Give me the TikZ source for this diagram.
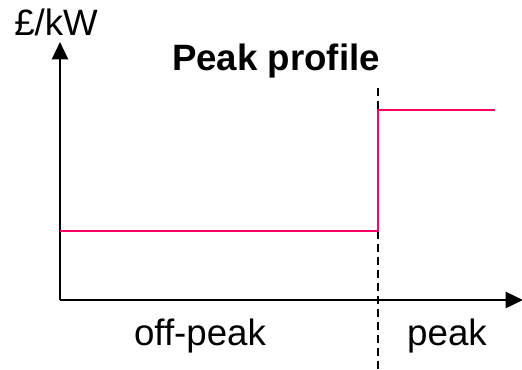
\documentclass[tikz,border=0pt]{standalone}
\usepackage{fontspec}
\setmainfont{Liberation Sans}
\usepackage{tikz}
\usetikzlibrary{arrows.meta, positioning}
\definecolor{peakpink}{RGB}{255,0,102}

\begin{document}
\begin{tikzpicture}[x=0.75pt,y=0.75pt,yscale=-1,xscale=1,
		axisline/.style={line width=1.9pt, -{Triangle[length=13pt,width=12pt]}},
		tariff/.style={draw=peakpink, line width=1.7pt},
		divider/.style={line width=1pt, dash pattern=on 6pt off 3.75pt},
		txt/.style={inner sep=0.75pt, font=\fontsize{27.5}{33}\selectfont}]
		\useasboundingbox (0,0) rectangle (522,369);

		%Coordinates
		\coordinate (origin) at (60,300) ;
		\coordinate (ytop) at (60,42) ;
		\coordinate (xend) at (523,300) ;
		\coordinate (divtop) at (378,88) ;
		\coordinate (divbot) at (378,369) ;
		\coordinate (lowstart) at (60,231) ;
		\coordinate (lowend) at (378,231) ;
		\coordinate (highstart) at (378,110) ;
		\coordinate (highend) at (495,110) ;

		%Straight Lines
		\draw [divider] (divtop) -- (divbot) ;
		%Straight Lines
		\draw [axisline] (origin) -- (ytop) ;
		\draw [axisline] (origin) -- (xend) ;
		%Straight Lines
		\draw [tariff] (lowstart) -- (lowend) -- (highstart) -- (highend) ;

		% Text Node
		\draw (13,35) node (unit) [anchor=base west][txt] {£/kW};
		% Text Node
		\draw (276,70) node (title) [anchor=base][txt] {\bfseries Peak profile};
		% Text Node
		\draw (200,345) node (offpeak) [anchor=base][txt] {off-peak};
		% Text Node
		\draw (447,345) node (peak) [anchor=base][txt] {peak};

\end{tikzpicture}
\end{document}
